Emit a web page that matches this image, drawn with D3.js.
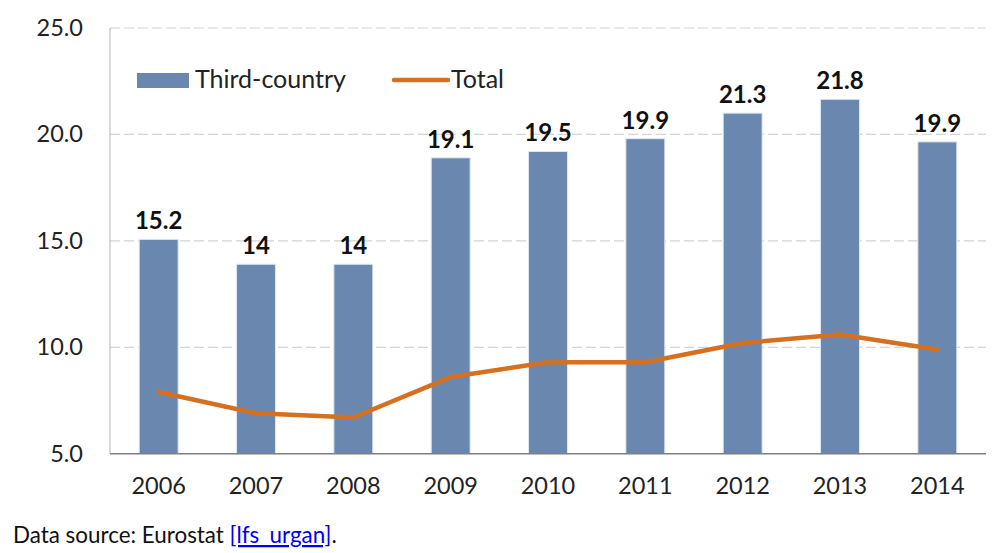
<!DOCTYPE html>
<html>
<head>
<meta charset="utf-8">
<script src="https://cdn.jsdelivr.net/npm/d3@7"></script>
<style>
  html, body { margin: 0; padding: 0; background: #fff; }
  svg { display: block; }
</style>
</head>
<body>
<svg id="chart" width="995" height="553"></svg>
<script>
const years = ["2006","2007","2008","2009","2010","2011","2012","2013","2014"];
const thirdCountry = [15.07, 13.9, 13.9, 18.9, 19.2, 19.8, 21.0, 21.65, 19.65];
const thirdCountryLabels = ["15.2","14","14","19.1","19.5","19.9","21.3","21.8","19.9"];
const total = [7.9, 6.9, 6.7, 8.6, 9.3, 9.3, 10.2, 10.6, 9.9];
const yTicks = [5, 10, 15, 20, 25];
const seriesNames = ["Third-country", "Total"];

const FONT = "Lato, 'Open Sans', sans-serif";
const barColor = "#6A88AF";
const lineColor = "#D4701F";

const svg = d3.select("#chart");
const mLeft = 110, mRight = 986, mTop = 28, mBottom = 453.7;

const x = d3.scaleBand().domain(years).range([mLeft, mRight]).paddingInner(0.6).paddingOuter(0.3);
const y = d3.scaleLinear().domain([5, 25]).range([mBottom, mTop]);

// gridlines
svg.append("g").selectAll("line").data(yTicks.filter(d => d > 5)).join("line")
  .attr("x1", mLeft).attr("x2", mRight)
  .attr("y1", d => y(d)).attr("y2", d => y(d))
  .attr("stroke", "#d4d4d4").attr("stroke-width", 1.2).attr("stroke-dasharray", "10,4");

// y axis line
svg.append("line").attr("x1", mLeft).attr("x2", mLeft).attr("y1", mTop).attr("y2", mBottom)
  .attr("stroke", "#bfbfbf").attr("stroke-width", 1.2);

// y tick labels
const yAxis = d3.axisLeft(y).tickValues(yTicks).tickFormat(d3.format(".1f")).tickSize(0).tickPadding(27);
const gy = svg.append("g").attr("transform", `translate(${mLeft},0)`).call(yAxis);
gy.select(".domain").remove();
gy.selectAll("text").attr("font-family", FONT).attr("font-size", 23.5).attr("fill", "#222");

// bars
svg.append("g").selectAll("rect").data(years).join("rect")
  .attr("x", d => x(d))
  .attr("y", (d, i) => y(thirdCountry[i]))
  .attr("width", x.bandwidth())
  .attr("height", (d, i) => y(5) - y(thirdCountry[i]))
  .attr("fill", barColor)
  .attr("stroke", "#dfe7f1").attr("stroke-width", 1);

// bar labels
svg.append("g").selectAll("text").data(years).join("text")
  .attr("x", d => x(d) + x.bandwidth() / 2)
  .attr("y", (d, i) => y(thirdCountry[i]) - 10)
  .attr("text-anchor", "middle")
  .attr("font-family", FONT).attr("font-weight", "bold").attr("font-size", 24).attr("fill", "#111")
  .text((d, i) => thirdCountryLabels[i]);

// x axis baseline
svg.append("line").attr("x1", mLeft).attr("x2", mRight).attr("y1", mBottom).attr("y2", mBottom)
  .attr("stroke", "#808080").attr("stroke-width", 1.5);

// x axis labels
const xAxis = d3.axisBottom(x).tickSize(0).tickPadding(24);
const gx = svg.append("g").attr("transform", `translate(0,${mBottom})`).call(xAxis);
gx.select(".domain").remove();
gx.selectAll("text").attr("font-family", FONT).attr("font-size", 23.5).attr("fill", "#222");

// total line
const line = d3.line()
  .x((d, i) => x(years[i]) + x.bandwidth() / 2)
  .y(d => y(d));
svg.append("path").datum(total).attr("d", line)
  .attr("fill", "none").attr("stroke", lineColor).attr("stroke-width", 4.5)
  .attr("stroke-linejoin", "round").attr("stroke-linecap", "round");

// legend
const lg = svg.append("g");
lg.append("rect").attr("x", 137).attr("y", 73).attr("width", 52).attr("height", 15).attr("fill", barColor);
lg.append("text").attr("x", 195).attr("y", 88).attr("font-family", FONT).attr("font-size", 25).attr("fill", "#222").text(seriesNames[0]);
lg.append("line").attr("x1", 394).attr("x2", 448).attr("y1", 80).attr("y2", 80)
  .attr("stroke", lineColor).attr("stroke-width", 4.5).attr("stroke-linecap", "round");
lg.append("text").attr("x", 451).attr("y", 88).attr("font-family", FONT).attr("font-size", 25).attr("fill", "#222").text(seriesNames[1]);

// source
const src = svg.append("text").attr("x", 13).attr("y", 543).attr("font-family", FONT).attr("font-size", 22.4).attr("fill", "#111");
src.append("tspan").text("Data source: Eurostat ");
src.append("tspan").attr("fill", "#0000EE").attr("text-decoration", "underline").text("[lfs_urgan]");
src.append("tspan").text(".");
</script>
</body>
</html>
